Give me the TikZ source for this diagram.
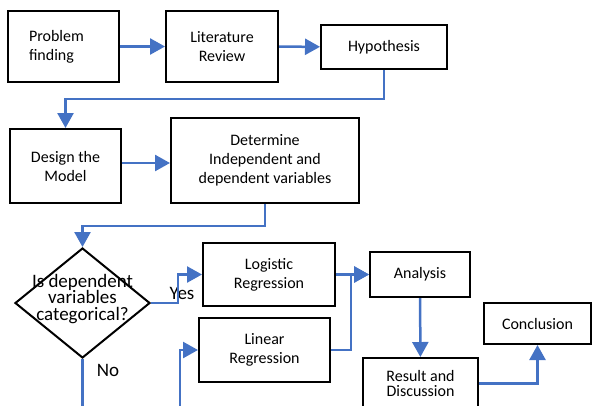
\documentclass[tikz,border=0pt]{standalone}
\usepackage{fontspec}
\setmainfont{Carlito}
\usetikzlibrary{arrows.meta,shapes.geometric,positioning,calc}
\definecolor{flowblue}{RGB}{68,114,196}

\begin{document}
\begin{tikzpicture}[x=1pt,y=-1pt,
  box/.style={draw, line width=2pt, align=center, inner sep=0pt, font=\fontsize{16}{19}\selectfont},
  decision/.style={draw, diamond, line width=2pt, inner sep=0pt, minimum width=135pt, minimum height=110pt},
  bigtxt/.style={font=\fontsize{19}{16.5}\selectfont, align=center, inner sep=0pt},
  flow/.style={draw=flowblue, line width=2.5pt, -{Triangle[length=15pt,width=16pt]}}]
\clip (0,0) rectangle (593,405);
% top row
\node[box, minimum width=111pt, minimum height=71pt, text width=69pt, align=left] (problem) at (63.5,46.5) {Problem\\finding};
\node[box, minimum width=112pt, minimum height=71pt] (litrev) at (222,46.5) {Literature\\Review};
\node[box, minimum width=126pt, minimum height=44pt] (hypo) at (384,47) {Hypothesis};
% second row
\node[box, minimum width=111pt, minimum height=74pt] (design) at (65.5,166) {Design the\\Model};
\node[box, minimum width=188pt, minimum height=85pt] (determine) at (265,160.5) {Determine\\Independent and\\dependent variables};
% decision and models
\node[decision] (categ) at (82.5,303) {};
\node[bigtxt] (categtxt) at (82.5,299) {Is dependent\\variables\\categorical?};
\node[box, minimum width=132pt, minimum height=63pt] (logit) at (269,274.5) {Logistic\\Regression};
\node[box, minimum width=131pt, minimum height=64pt] (linear) at (264.5,350) {Linear\\Regression};
\node[box, minimum width=100pt, minimum height=45pt] (analysis) at (420,274.5) {Analysis};
\node[box, minimum width=115pt, minimum height=51pt, font=\fontsize{16}{15}\selectfont] (result) at (420.5,383.5) {Result and\\Discussion};
\node[box, minimum width=107pt, minimum height=41pt] (concl) at (537.5,323.5) {Conclusion};
\node[bigtxt] (yes) at (182,293) {Yes};
\node[bigtxt] (no) at (108,370) {No};
\coordinate (noend) at (82.5,410);
\coordinate (linstart) at (180,410);

\draw[flow] (problem) -- (litrev);
\draw[flow] (litrev) -- (hypo);
\draw[flow] (hypo.south) -- ++(0,29) -| (design.north);
\draw[flow] ([yshift=3pt]design.east) -- ([yshift=3pt]design.east -| determine.west);
\draw[flow] (determine.south) -- ++(0,22) -| (categ.north);
\draw[flow] (categ.east) -- ++(27,0) |- (logit.west);
\draw[flowblue, line width=2.5pt] (categ.south) -- (noend);
\draw[flow] (linstart) |- (linear.west);
\draw[flow] (logit.east) -- (analysis.west);
\draw[flow] (linear.east) -- ++(20,0) |- (analysis.west);
\draw[flow] (analysis) -- (result);
\draw[flow] (result.east) -| (concl.south);
\end{tikzpicture}
\end{document}
